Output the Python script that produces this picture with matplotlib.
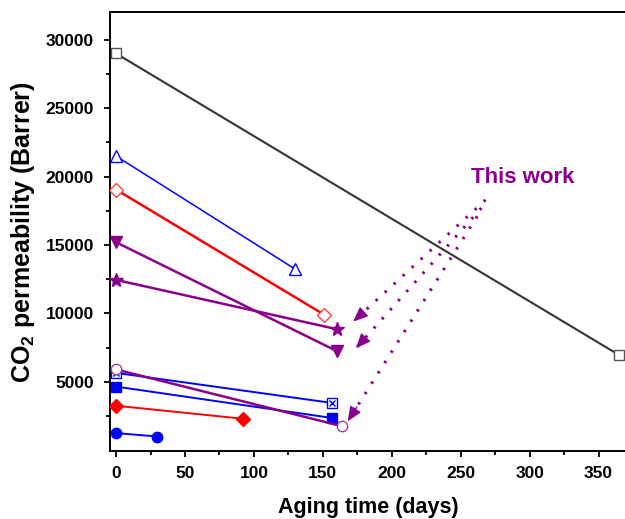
import matplotlib
matplotlib.use('Agg')
import matplotlib.pyplot as plt

plt.rcParams['font.family'] = ['Liberation Sans', 'DejaVu Sans']
plt.rcParams['mathtext.fontset'] = 'custom'
plt.rcParams['mathtext.bf'] = 'Liberation Sans:bold'
plt.rcParams['mathtext.rm'] = 'Liberation Sans:bold'
plt.rcParams['mathtext.default'] = 'bf'

# aging data: (days, CO2 permeability in Barrer), start and end points of each membrane
black_sq_x = [0, 365]
black_sq_y = [29000, 6950]
blue_tri_x = [0, 130]
blue_tri_y = [21500, 13230]
red_odia_x = [0, 151]
red_odia_y = [19050, 9900]
pur_vtri_x = [0, 160]
pur_vtri_y = [15200, 7250]
pur_star_x = [0, 160]
pur_star_y = [12450, 8850]
pur_circ_x = [0, 164]
pur_circ_y = [5900, 1750]
blue_xsq_x = [0, 157]
blue_xsq_y = [5650, 3450]
blue_fsq_x = [0, 157]
blue_fsq_y = [4650, 2350]
red_fdia_x = [0, 92]
red_fdia_y = [3250, 2300]
blue_fcirc_x = [0, 30]
blue_fcirc_y = [1250, 1000]

# "This work" arrows (tail -> head)
arrow_tails = [(268, 18300), (265, 17700), (262, 17100)]
arrow_heads = [(172, 9400), (174, 7450), (168, 2100)]

purple = '#8B008B'

fig = plt.figure(figsize=(6.25, 5.19), dpi=100)
ax = fig.add_axes([0.176, 0.131, 0.828, 0.845])

ax.plot(black_sq_x, black_sq_y, color='#333333', lw=1.5, marker='s', ms=6.5,
        mfc='white', mec='#555555', mew=1.0, zorder=3)
ax.plot(blue_tri_x, blue_tri_y, color='blue', lw=1.1, marker='^', ms=9,
        mfc='white', mec='blue', mew=1.0, zorder=3)
ax.plot(red_odia_x, red_odia_y, color='red', lw=1.8, marker='D', ms=7,
        mfc='white', mec='#ff4040', mew=1.0, zorder=3)
ax.plot(pur_vtri_x, pur_vtri_y, color=purple, lw=1.8, marker='v', ms=9,
        mfc=purple, mec=purple, zorder=3)
ax.plot(pur_star_x, pur_star_y, color=purple, lw=1.8, marker='*', ms=10.5,
        mfc=purple, mec=purple, zorder=3)
ax.plot(blue_xsq_x, blue_xsq_y, color='blue', lw=1.4, marker='s', ms=6.5,
        mfc='white', mec='blue', mew=1.0, zorder=3)
ax.plot(blue_xsq_x, blue_xsq_y, ls='none', marker='x', ms=5,
        mec='blue', mew=1.0, zorder=4)
ax.plot(blue_fsq_x, blue_fsq_y, color='blue', lw=1.4, marker='s', ms=7,
        mfc='blue', mec='blue', zorder=3)
ax.plot(pur_circ_x, pur_circ_y, color=purple, lw=1.8, marker='o', ms=7.5,
        mfc='white', mec='#a040a0', mew=1.0, zorder=5)
ax.plot(red_fdia_x, red_fdia_y, color='red', lw=1.4, marker='D', ms=7,
        mfc='red', mec='red', zorder=3)
ax.plot(blue_fcirc_x, blue_fcirc_y, color='blue', lw=1.4, marker='o', ms=7.5,
        mfc='blue', mec='blue', zorder=3)

# dotted arrows pointing at this work's samples
for (tx, ty), (hx, hy) in zip(arrow_tails, arrow_heads):
    ax.plot([tx, hx], [ty, hy], color=purple, lw=2.2, ls=(0, (0.8, 3.2)),
            solid_capstyle='butt', zorder=2)
    ax.annotate('', xy=(hx, hy), xytext=(hx + (tx - hx) * 0.07, hy + (ty - hy) * 0.07),
                arrowprops=dict(arrowstyle='-|>,head_length=0.9,head_width=0.38',
                                color=purple, lw=1.0, shrinkA=0, shrinkB=0),
                zorder=2)

ax.text(295, 19900, 'This work', color=purple, fontsize=16, fontweight='bold',
        ha='center', va='center')

ax.set_xlim(-4.4, 371)
ax.set_ylim(-60, 32000)
ax.set_xticks(range(0, 351, 50))
ax.set_xticks(range(25, 371, 50), minor=True)
ax.set_yticks(range(5000, 30001, 5000))
ax.set_yticks(range(2500, 32000, 5000), minor=True)
ax.tick_params(which='major', direction='out', length=4.5, width=1.3, labelsize=12.5)
ax.tick_params(axis='x', which='major', pad=6)
ax.tick_params(axis='y', which='major', pad=7)
ax.tick_params(which='minor', direction='out', length=3, width=1.3)
for lab in ax.get_xticklabels() + ax.get_yticklabels():
    lab.set_fontweight('bold')
for sp in ax.spines.values():
    sp.set_linewidth(1.4)

ax.set_xlabel('Aging time (days)', fontsize=15.5, fontweight='bold', labelpad=12)
ax.set_ylabel(r'CO$_2$ permeability (Barrer)', fontsize=18, fontweight='bold', labelpad=6)

fig.savefig('out.png', dpi=100)
